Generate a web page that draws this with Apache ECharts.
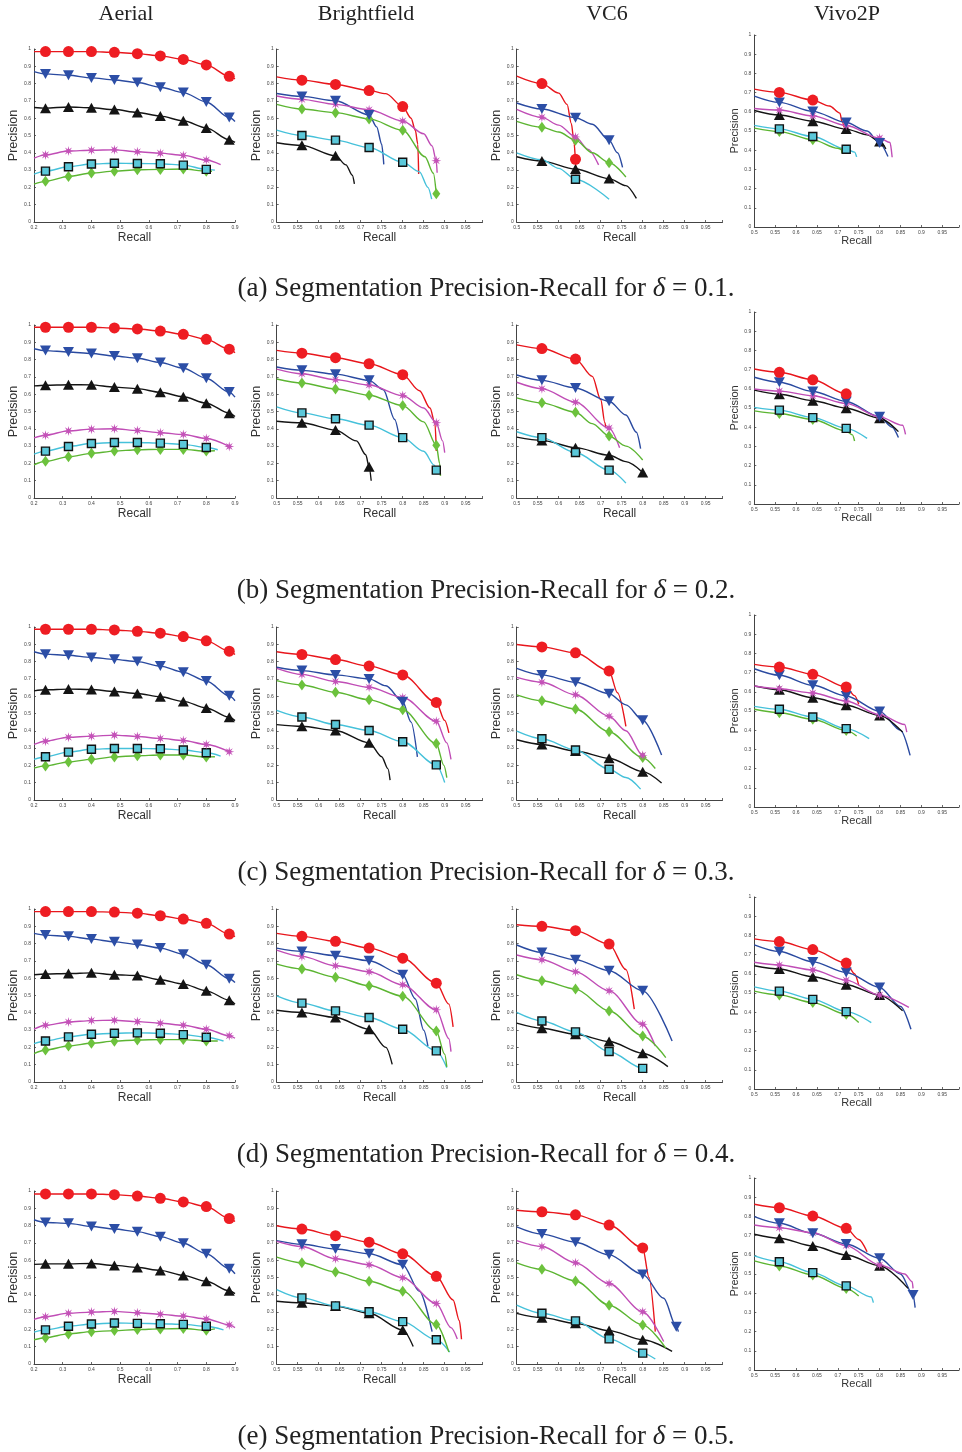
<!DOCTYPE html>
<html>
<head>
<meta charset="utf-8">
<script src="https://cdn.jsdelivr.net/npm/echarts@6/dist/echarts.min.js"></script>
<style>
  html, body { margin: 0; padding: 0; background: #fff; }
  #chart { width: 962px; height: 1452px; }
</style>
</head>
<body>
<div id="chart"></div>
<script>
// ---- labels ----
const COLUMN_TITLES = ['Aerial', 'Brightfield', 'VC6', 'Vivo2P'];
const ROW_LETTERS = ['a', 'b', 'c', 'd', 'e'];
const DELTAS = ['0.1', '0.2', '0.3', '0.4', '0.5'];

// ---- curves: each panel holds 6 curves in order red, blue, black, magenta, cyan, green.
// Points are [recall, precision]; a third element 1 marks a plotted marker.
const a_aerial = [
  [[0.2,0.985],[0.24,0.985,1],[0.32,0.985,1],[0.40,0.985,1],[0.48,0.981,1],[0.56,0.973,1],[0.64,0.96,1],[0.72,0.94,1],[0.80,0.908,1],[0.88,0.842,1],[0.9,0.827]],
  [[0.2,0.869],[0.24,0.856,1],[0.32,0.848,1],[0.40,0.833,1],[0.48,0.821,1],[0.56,0.806,1],[0.64,0.779,1],[0.72,0.748,1],[0.80,0.694,1],[0.88,0.604,1],[0.9,0.581]],
  [[0.2,0.662],[0.24,0.658,1],[0.32,0.665,1],[0.40,0.66,1],[0.48,0.65,1],[0.56,0.633,1],[0.64,0.612,1],[0.72,0.585,1],[0.80,0.544,1],[0.88,0.475,1],[0.9,0.46]],
  [[0.2,0.369],[0.24,0.388,1],[0.32,0.41,1],[0.40,0.415,1],[0.48,0.417,1],[0.56,0.406,1],[0.64,0.398,1],[0.72,0.385,1],[0.80,0.358,1],[0.85,0.331]],
  [[0.2,0.277],[0.24,0.294,1],[0.32,0.319,1],[0.40,0.335,1],[0.48,0.34,1],[0.56,0.338,1],[0.64,0.337,1],[0.72,0.329,1],[0.80,0.304,1],[0.83,0.30]],
  [[0.2,0.219],[0.24,0.235,1],[0.32,0.263,1],[0.40,0.283,1],[0.48,0.294,1],[0.56,0.302,1],[0.64,0.304,1],[0.72,0.306,1],[0.80,0.294,1],[0.82,0.293]]
];
const a_bright = [
  [[0.5,0.839],[0.56,0.82,1],[0.64,0.795,1],[0.72,0.76,1],[0.76,0.742],[0.80,0.667,1],[0.82,0.6],[0.83,0.53],[0.836,0.45],[0.838,0.278]],
  [[0.5,0.743],[0.56,0.726,1],[0.64,0.701,1],[0.72,0.619,1],[0.738,0.55],[0.75,0.45],[0.755,0.333]],
  [[0.5,0.458],[0.56,0.443,1],[0.64,0.383,1],[0.665,0.33],[0.68,0.27],[0.685,0.22]],
  [[0.5,0.728],[0.56,0.709,1],[0.64,0.68,1],[0.72,0.649,1],[0.80,0.584,1],[0.85,0.51],[0.87,0.44],[0.88,0.354,1],[0.882,0.285]],
  [[0.5,0.531],[0.56,0.5,1],[0.64,0.473,1],[0.72,0.431,1],[0.80,0.345,1],[0.84,0.29],[0.86,0.2],[0.869,0.132]],
  [[0.5,0.68],[0.56,0.653,1],[0.64,0.632,1],[0.72,0.596,1],[0.80,0.531,1],[0.853,0.377],[0.873,0.282],[0.88,0.163,1]]
];
const a_vc6 = [
  [[0.5,0.843],[0.56,0.80,1],[0.6,0.745],[0.62,0.68],[0.63,0.57],[0.637,0.45],[0.64,0.362,1],[0.641,0.276]],
  [[0.5,0.688],[0.56,0.653,1],[0.64,0.603,1],[0.68,0.565],[0.72,0.473,1],[0.74,0.40],[0.752,0.316]],
  [[0.5,0.377],[0.56,0.352,1],[0.64,0.306,1],[0.72,0.251,1],[0.76,0.21],[0.785,0.136]],
  [[0.5,0.651],[0.56,0.605,1],[0.60,0.56],[0.64,0.492,1],[0.67,0.42],[0.695,0.33]],
  [[0.5,0.4],[0.56,0.36],[0.6,0.31],[0.64,0.247,1],[0.72,0.132]],
  [[0.5,0.582],[0.56,0.548,1],[0.60,0.52],[0.64,0.473,1],[0.68,0.40],[0.72,0.343,1],[0.76,0.26]]
];
const a_vivo = [
  [[0.5,0.718],[0.56,0.701,1],[0.64,0.661,1],[0.68,0.63],[0.705,0.593],[0.71,0.55],[0.715,0.52]],
  [[0.5,0.682],[0.56,0.649,1],[0.64,0.602,1],[0.72,0.544,1],[0.77,0.5],[0.80,0.437,1],[0.82,0.367]],
  [[0.5,0.607],[0.56,0.583,1],[0.64,0.551,1],[0.72,0.51,1],[0.77,0.48],[0.80,0.445,1],[0.815,0.407]],
  [[0.5,0.617],[0.56,0.609,1],[0.64,0.579,1],[0.72,0.529,1],[0.80,0.463,1],[0.825,0.44],[0.83,0.363]],
  [[0.5,0.529],[0.56,0.511,1],[0.64,0.471,1],[0.72,0.405,1],[0.74,0.39],[0.745,0.365]],
  [[0.5,0.515],[0.56,0.497,1],[0.64,0.454,1],[0.70,0.41],[0.708,0.405],[0.71,0.384]]
];

const b_aerial = [
  [[0.2,0.987],[0.24,0.987,1],[0.32,0.987,1],[0.40,0.987,1],[0.48,0.983,1],[0.56,0.977,1],[0.64,0.965,1],[0.72,0.946,1],[0.80,0.917,1],[0.88,0.86,1],[0.9,0.84]],
  [[0.2,0.863],[0.24,0.852,1],[0.32,0.844,1],[0.40,0.835,1],[0.48,0.821,1],[0.56,0.808,1],[0.64,0.783,1],[0.72,0.75,1],[0.80,0.692,1],[0.88,0.612,1],[0.9,0.583]],
  [[0.2,0.648],[0.24,0.652,1],[0.32,0.655,1],[0.40,0.654,1],[0.48,0.641,1],[0.56,0.632,1],[0.64,0.611,1],[0.72,0.585,1],[0.80,0.548,1],[0.88,0.49,1],[0.9,0.471]],
  [[0.2,0.348],[0.24,0.363,1],[0.32,0.388,1],[0.40,0.398,1],[0.48,0.4,1],[0.56,0.39,1],[0.64,0.377,1],[0.72,0.367,1],[0.80,0.344,1],[0.88,0.298,1]],
  [[0.2,0.254],[0.24,0.271,1],[0.32,0.298,1],[0.40,0.315,1],[0.48,0.321,1],[0.56,0.321,1],[0.64,0.317,1],[0.72,0.31,1],[0.80,0.292,1],[0.84,0.279]],
  [[0.2,0.192],[0.24,0.212,1],[0.32,0.238,1],[0.40,0.258,1],[0.48,0.271,1],[0.56,0.279,1],[0.64,0.281,1],[0.72,0.281,1],[0.80,0.271,1],[0.83,0.273]]
];
const b_bright = [
  [[0.5,0.853],[0.56,0.837,1],[0.64,0.811,1],[0.72,0.776,1],[0.80,0.713,1],[0.84,0.62],[0.865,0.52],[0.877,0.43],[0.88,0.272]],
  [[0.5,0.757],[0.56,0.738,1],[0.64,0.716,1],[0.72,0.68,1],[0.754,0.626],[0.781,0.454],[0.792,0.349]],
  [[0.5,0.444],[0.56,0.435,1],[0.64,0.393,1],[0.69,0.33],[0.712,0.25],[0.72,0.18,1],[0.725,0.1]],
  [[0.5,0.745],[0.56,0.718,1],[0.64,0.684,1],[0.72,0.653,1],[0.80,0.592,1],[0.85,0.52],[0.88,0.435,1],[0.895,0.33],[0.9,0.262]],
  [[0.5,0.527],[0.56,0.492,1],[0.64,0.458,1],[0.72,0.421,1],[0.80,0.349,1],[0.85,0.27],[0.875,0.19],[0.88,0.161,1]],
  [[0.5,0.688],[0.56,0.665,1],[0.64,0.63,1],[0.72,0.594,1],[0.80,0.534,1],[0.85,0.44],[0.88,0.305,1],[0.888,0.2],[0.89,0.128]]
];
const b_vc6 = [
  [[0.5,0.885],[0.56,0.864,1],[0.64,0.803,1],[0.68,0.703],[0.70,0.569],[0.71,0.435],[0.712,0.41]],
  [[0.5,0.711],[0.56,0.68,1],[0.64,0.636,1],[0.72,0.559,1],[0.76,0.48],[0.785,0.38],[0.795,0.285]],
  [[0.5,0.352],[0.56,0.333,1],[0.64,0.291,1],[0.72,0.247,1],[0.76,0.21],[0.80,0.148,1]],
  [[0.5,0.669],[0.56,0.632,1],[0.64,0.554,1],[0.72,0.404,1],[0.745,0.291]],
  [[0.5,0.383],[0.56,0.349,1],[0.64,0.263,1],[0.72,0.161,1],[0.76,0.086]],
  [[0.5,0.579],[0.56,0.55,1],[0.64,0.496,1],[0.68,0.43],[0.72,0.358,1],[0.76,0.3],[0.80,0.22]]
];
const b_vivo = [
  [[0.5,0.703],[0.56,0.686,1],[0.64,0.647,1],[0.72,0.574,1],[0.722,0.555]],
  [[0.5,0.66],[0.56,0.634,1],[0.64,0.586,1],[0.72,0.534,1],[0.80,0.454,1],[0.83,0.4],[0.845,0.346]],
  [[0.5,0.593],[0.56,0.572,1],[0.64,0.538,1],[0.72,0.499,1],[0.80,0.447,1],[0.845,0.377]],
  [[0.5,0.599],[0.56,0.588,1],[0.64,0.564,1],[0.72,0.524,1],[0.80,0.454,1],[0.855,0.41],[0.862,0.363]],
  [[0.5,0.503],[0.56,0.489,1],[0.64,0.45,1],[0.72,0.394,1],[0.77,0.342]],
  [[0.5,0.485],[0.56,0.471,1],[0.64,0.44,1],[0.72,0.38],[0.735,0.36],[0.74,0.328]]
];

const c_aerial = [
  [[0.2,0.987],[0.24,0.987,1],[0.32,0.987,1],[0.40,0.987,1],[0.48,0.983,1],[0.56,0.975,1],[0.64,0.964,1],[0.72,0.945,1],[0.80,0.92,1],[0.88,0.86,1],[0.9,0.841]],
  [[0.2,0.857],[0.24,0.843,1],[0.32,0.837,1],[0.40,0.824,1],[0.48,0.813,1],[0.56,0.8,1],[0.64,0.774,1],[0.72,0.738,1],[0.80,0.688,1],[0.88,0.602,1],[0.9,0.574]],
  [[0.2,0.631],[0.24,0.637,1],[0.32,0.641,1],[0.40,0.639,1],[0.48,0.627,1],[0.56,0.616,1],[0.64,0.597,1],[0.72,0.57,1],[0.80,0.532,1],[0.88,0.478,1],[0.9,0.459]],
  [[0.2,0.321],[0.24,0.34,1],[0.32,0.363,1],[0.40,0.369,1],[0.48,0.375,1],[0.56,0.367,1],[0.64,0.356,1],[0.72,0.344,1],[0.80,0.321,1],[0.88,0.279,1]],
  [[0.2,0.235],[0.24,0.25,1],[0.32,0.277,1],[0.40,0.293,1],[0.48,0.298,1],[0.56,0.298,1],[0.64,0.296,1],[0.72,0.289,1],[0.80,0.273,1],[0.85,0.254]],
  [[0.2,0.184],[0.24,0.197,1],[0.32,0.22,1],[0.40,0.235,1],[0.48,0.249,1],[0.56,0.256,1],[0.64,0.26,1],[0.72,0.26,1],[0.80,0.249,1],[0.83,0.25]]
];
const c_bright = [
  [[0.5,0.857],[0.56,0.841,1],[0.64,0.812,1],[0.72,0.774,1],[0.80,0.723,1],[0.88,0.564,1],[0.9,0.46],[0.91,0.388]],
  [[0.5,0.767],[0.56,0.748,1],[0.64,0.723,1],[0.72,0.7,1],[0.76,0.66],[0.80,0.568,1],[0.82,0.45],[0.835,0.249]],
  [[0.5,0.436],[0.56,0.426,1],[0.64,0.402,1],[0.72,0.331,1],[0.75,0.25],[0.765,0.18],[0.77,0.115]],
  [[0.5,0.761],[0.56,0.726,1],[0.64,0.685,1],[0.72,0.652,1],[0.80,0.593,1],[0.88,0.455,1],[0.905,0.33],[0.915,0.235]],
  [[0.5,0.518],[0.56,0.48,1],[0.64,0.436,1],[0.72,0.402,1],[0.80,0.337,1],[0.88,0.203,1],[0.9,0.101]],
  [[0.5,0.69],[0.56,0.665,1],[0.64,0.623,1],[0.72,0.579,1],[0.80,0.522,1],[0.88,0.327,1],[0.898,0.2],[0.905,0.13]]
];
const c_vc6 = [
  [[0.5,0.899],[0.56,0.885,1],[0.64,0.851,1],[0.72,0.746,1],[0.74,0.62],[0.76,0.426]],
  [[0.5,0.761],[0.56,0.723,1],[0.64,0.681,1],[0.72,0.614,1],[0.76,0.55],[0.80,0.461,1],[0.845,0.26]],
  [[0.5,0.348],[0.56,0.321,1],[0.64,0.283,1],[0.72,0.241,1],[0.80,0.164,1],[0.845,0.098]],
  [[0.5,0.709],[0.56,0.681,1],[0.64,0.608,1],[0.72,0.484,1],[0.76,0.4],[0.80,0.258,1],[0.805,0.25]],
  [[0.5,0.398],[0.56,0.354,1],[0.64,0.289,1],[0.72,0.178,1],[0.76,0.13],[0.795,0.063]],
  [[0.5,0.608],[0.56,0.574,1],[0.64,0.526,1],[0.72,0.394,1],[0.80,0.245,1],[0.83,0.182]]
];
const c_vivo = [
  [[0.5,0.743],[0.56,0.729,1],[0.64,0.691,1],[0.72,0.625,1],[0.74,0.58],[0.75,0.535]],
  [[0.5,0.72],[0.56,0.686,1],[0.64,0.634,1],[0.72,0.578,1],[0.80,0.498,1],[0.85,0.4],[0.873,0.269]],
  [[0.5,0.63],[0.56,0.611,1],[0.64,0.569,1],[0.72,0.53,1],[0.80,0.477,1],[0.855,0.39]],
  [[0.5,0.63],[0.56,0.616,1],[0.64,0.594,1],[0.72,0.552,1],[0.80,0.481,1],[0.86,0.43],[0.865,0.39]],
  [[0.5,0.524],[0.56,0.509,1],[0.64,0.469,1],[0.72,0.408,1],[0.775,0.356]],
  [[0.5,0.509],[0.56,0.491,1],[0.64,0.457,1],[0.72,0.399,1],[0.745,0.37]]
];

const d_aerial = [
  [[0.2,0.985],[0.24,0.985,1],[0.32,0.985,1],[0.40,0.985,1],[0.48,0.982,1],[0.56,0.976,1],[0.64,0.961,1],[0.72,0.942,1],[0.80,0.917,1],[0.88,0.855,1],[0.9,0.84]],
  [[0.2,0.859],[0.24,0.849,1],[0.32,0.842,1],[0.40,0.826,1],[0.48,0.81,1],[0.56,0.795,1],[0.64,0.774,1],[0.72,0.739,1],[0.80,0.678,1],[0.88,0.597,1],[0.9,0.575]],
  [[0.2,0.62],[0.24,0.624,1],[0.32,0.627,1],[0.40,0.631,1],[0.48,0.62,1],[0.56,0.616,1],[0.64,0.591,1],[0.72,0.566,1],[0.80,0.527,1],[0.88,0.473,1],[0.9,0.45]],
  [[0.2,0.305],[0.24,0.328,1],[0.32,0.347,1],[0.40,0.355,1],[0.48,0.357,1],[0.56,0.349,1],[0.64,0.34,1],[0.72,0.328,1],[0.80,0.305,1],[0.88,0.267,1],[0.9,0.253]],
  [[0.2,0.222],[0.24,0.237,1],[0.32,0.261,1],[0.40,0.276,1],[0.48,0.282,1],[0.56,0.284,1],[0.64,0.282,1],[0.72,0.274,1],[0.80,0.259,1],[0.86,0.237]],
  [[0.2,0.164],[0.24,0.185,1],[0.32,0.208,1],[0.40,0.224,1],[0.48,0.236,1],[0.56,0.243,1],[0.64,0.245,1],[0.72,0.245,1],[0.80,0.237,1],[0.84,0.237]]
];
const d_bright = [
  [[0.5,0.859],[0.56,0.842,1],[0.64,0.813,1],[0.72,0.774,1],[0.80,0.716,1],[0.88,0.571,1],[0.91,0.45],[0.92,0.319]],
  [[0.5,0.774],[0.56,0.755,1],[0.64,0.73,1],[0.72,0.701,1],[0.80,0.62,1],[0.83,0.48],[0.85,0.3],[0.86,0.208]],
  [[0.5,0.415],[0.56,0.402,1],[0.64,0.373,1],[0.72,0.305,1],[0.76,0.2],[0.775,0.102]],
  [[0.5,0.762],[0.56,0.726,1],[0.64,0.672,1],[0.72,0.637,1],[0.80,0.562,1],[0.88,0.417,1],[0.91,0.25],[0.915,0.176]],
  [[0.5,0.498],[0.56,0.456,1],[0.64,0.411,1],[0.72,0.373,1],[0.80,0.305,1],[0.88,0.18,1],[0.905,0.083]],
  [[0.5,0.681],[0.56,0.653,1],[0.64,0.606,1],[0.72,0.556,1],[0.80,0.496,1],[0.88,0.295,1],[0.9,0.16],[0.905,0.087]]
];
const d_vc6 = [
  [[0.5,0.909],[0.56,0.9,1],[0.64,0.875,1],[0.72,0.797,1],[0.76,0.65],[0.78,0.421]],
  [[0.5,0.792],[0.56,0.749,1],[0.64,0.707,1],[0.72,0.643,1],[0.80,0.527,1],[0.87,0.237]],
  [[0.5,0.34],[0.56,0.311,1],[0.64,0.276,1],[0.72,0.234,1],[0.80,0.166,1],[0.86,0.089]],
  [[0.5,0.734],[0.56,0.707,1],[0.64,0.637,1],[0.72,0.527,1],[0.80,0.334,1],[0.83,0.208]],
  [[0.5,0.402],[0.56,0.353,1],[0.64,0.29,1],[0.72,0.176,1],[0.80,0.079,1],[0.81,0.052]],
  [[0.5,0.62],[0.56,0.585,1],[0.64,0.537,1],[0.72,0.411,1],[0.80,0.266,1],[0.855,0.141]]
];
const d_vivo = [
  [[0.5,0.782],[0.56,0.768,1],[0.64,0.726,1],[0.72,0.656,1],[0.74,0.6],[0.75,0.54]],
  [[0.5,0.751],[0.56,0.716,1],[0.64,0.662,1],[0.72,0.607,1],[0.80,0.529,1],[0.85,0.43],[0.875,0.311]],
  [[0.5,0.642],[0.56,0.625,1],[0.64,0.585,1],[0.72,0.543,1],[0.80,0.489,1],[0.855,0.407]],
  [[0.5,0.66],[0.56,0.646,1],[0.64,0.62,1],[0.72,0.567,1],[0.80,0.489,1],[0.87,0.425]],
  [[0.5,0.532],[0.56,0.51,1],[0.64,0.467,1],[0.72,0.403,1],[0.78,0.346]],
  [[0.5,0.51],[0.56,0.49,1],[0.64,0.45,1],[0.72,0.389,1],[0.75,0.346]]
];

const e_aerial = [
  [[0.2,0.983],[0.24,0.983,1],[0.32,0.983,1],[0.40,0.983,1],[0.48,0.979,1],[0.56,0.971,1],[0.64,0.958,1],[0.72,0.937,1],[0.80,0.91,1],[0.88,0.841,1],[0.9,0.824]],
  [[0.2,0.834],[0.24,0.818,1],[0.32,0.813,1],[0.40,0.795,1],[0.48,0.78,1],[0.56,0.765,1],[0.64,0.736,1],[0.72,0.698,1],[0.80,0.637,1],[0.88,0.551,1],[0.9,0.522]],
  [[0.2,0.576],[0.24,0.579,1],[0.32,0.579,1],[0.40,0.581,1],[0.48,0.57,1],[0.56,0.558,1],[0.64,0.541,1],[0.72,0.512,1],[0.80,0.478,1],[0.88,0.423,1],[0.9,0.407]],
  [[0.2,0.258],[0.24,0.273,1],[0.32,0.294,1],[0.40,0.3,1],[0.48,0.304,1],[0.56,0.296,1],[0.64,0.287,1],[0.72,0.277,1],[0.80,0.26,1],[0.88,0.226,1],[0.9,0.21]],
  [[0.2,0.184],[0.24,0.197,1],[0.32,0.218,1],[0.40,0.231,1],[0.48,0.237,1],[0.56,0.235,1],[0.64,0.233,1],[0.72,0.229,1],[0.80,0.218,1],[0.86,0.197]],
  [[0.2,0.14],[0.24,0.152,1],[0.32,0.174,1],[0.40,0.187,1],[0.48,0.193,1],[0.56,0.199,1],[0.64,0.203,1],[0.72,0.205,1],[0.80,0.195,1],[0.83,0.203]]
];
const e_bright = [
  [[0.5,0.799],[0.56,0.78,1],[0.64,0.742,1],[0.72,0.704,1],[0.80,0.637,1],[0.88,0.507,1],[0.92,0.37],[0.935,0.25],[0.94,0.143]],
  [[0.5,0.713],[0.56,0.692,1],[0.64,0.665,1],[0.72,0.637,1],[0.80,0.574,1],[0.84,0.42],[0.87,0.187]],
  [[0.5,0.363],[0.56,0.354,1],[0.64,0.335,1],[0.72,0.293,1],[0.80,0.197,1],[0.825,0.101]],
  [[0.5,0.709],[0.56,0.679,1],[0.64,0.608,1],[0.72,0.574,1],[0.80,0.499,1],[0.88,0.35,1],[0.915,0.21],[0.93,0.145]],
  [[0.5,0.43],[0.56,0.382,1],[0.64,0.336,1],[0.72,0.302,1],[0.80,0.245,1],[0.88,0.14,1],[0.912,0.069]],
  [[0.5,0.618],[0.56,0.585,1],[0.64,0.532,1],[0.72,0.478,1],[0.80,0.421,1],[0.88,0.229,1],[0.91,0.069]]
];
const e_vc6 = [
  [[0.5,0.889],[0.56,0.88,1],[0.64,0.862,1],[0.72,0.803,1],[0.80,0.671,1],[0.815,0.5],[0.83,0.187]],
  [[0.5,0.793],[0.56,0.751,1],[0.64,0.704,1],[0.72,0.631,1],[0.80,0.518,1],[0.85,0.38],[0.88,0.216,1],[0.885,0.187]],
  [[0.5,0.293],[0.56,0.268,1],[0.64,0.235,1],[0.72,0.193,1],[0.80,0.14,1],[0.87,0.073]],
  [[0.5,0.713],[0.56,0.679,1],[0.64,0.585,1],[0.72,0.465,1],[0.80,0.302,1],[0.85,0.13]],
  [[0.5,0.34],[0.56,0.293,1],[0.64,0.249,1],[0.72,0.145,1],[0.80,0.063,1],[0.83,0.029]],
  [[0.5,0.585],[0.56,0.547,1],[0.64,0.48,1],[0.72,0.34,1],[0.80,0.226,1],[0.855,0.092]]
];
const e_vivo = [
  [[0.5,0.863],[0.56,0.845,1],[0.64,0.802,1],[0.72,0.738,1],[0.75,0.68],[0.77,0.616]],
  [[0.5,0.799],[0.56,0.764,1],[0.64,0.712,1],[0.72,0.656,1],[0.80,0.582,1],[0.85,0.5],[0.88,0.391,1],[0.885,0.325]],
  [[0.5,0.707],[0.56,0.686,1],[0.64,0.646,1],[0.72,0.599,1],[0.80,0.543,1],[0.868,0.425]],
  [[0.5,0.755],[0.56,0.741,1],[0.64,0.715,1],[0.72,0.648,1],[0.80,0.547,1],[0.86,0.5],[0.878,0.46],[0.88,0.425]],
  [[0.5,0.594],[0.56,0.564,1],[0.64,0.507,1],[0.72,0.438,1],[0.78,0.38],[0.785,0.351]],
  [[0.5,0.568],[0.56,0.542,1],[0.64,0.495,1],[0.72,0.425,1],[0.75,0.385]]
];

const PANELS = [
  [a_aerial, a_bright, a_vc6, a_vivo],
  [b_aerial, b_bright, b_vc6, b_vivo],
  [c_aerial, c_bright, c_vc6, c_vivo],
  [d_aerial, d_bright, d_vc6, d_vivo],
  [e_aerial, e_bright, e_vc6, e_vivo]
];

// ---- layout (pixels) ----
const COL_LEFT = [34, 276.7, 516.7, 754.3];
const COL_WIDTH = [201, 205.8, 205.8, 206.6];
const COL_CENTER = [126, 366, 607, 847];
const ROW_TOP = [49, 325, 627, 909, 1191];
const ROW_H = 173;
const VIVO_TOP = [35, 312, 615, 897, 1178];
const VIVO_H = 192;
const CAPTION_Y = [289, 591, 873, 1155, 1437];

// eight-pointed star marker
const STAR = (() => {
  let d = '';
  for (let i = 0; i < 16; i++) {
    const a = i * Math.PI / 8 - Math.PI / 2;
    const r = i % 2 ? 0.38 : 1;
    d += (i ? 'L' : 'M') + (Math.cos(a) * r).toFixed(3) + ' ' + (Math.sin(a) * r).toFixed(3) + ' ';
  }
  return 'path://' + d + 'Z';
})();

const STYLES = [
  { line: '#e8161c', symbol: 'circle', size: 11, fill: '#ee1d23' },
  { line: '#2a4aa0', symbol: 'triangle', rotate: 180, size: [11, 10], fill: '#2c4ea6' },
  { line: '#141414', symbol: 'triangle', size: [11, 10], fill: '#141414' },
  { line: '#c04db6', symbol: STAR, size: 10, fill: '#c452b8' },
  { line: '#45c1da', symbol: 'rect', size: 8, fill: '#5bc8da', border: '#111' },
  { line: '#5cb532', symbol: 'diamond', size: [8, 11], fill: '#6cc23d' }
];
const DRAW_ORDER = [5, 2, 4, 3, 1, 0];

const TICK_FONT = { fontSize: 5, color: '#444', fontFamily: 'Liberation Sans' };
const AXIS_LINE = { lineStyle: { color: '#444', width: 1 } };
const AXIS_TICK = { inside: true, length: 2, lineStyle: { color: '#444', width: 0.8 } };
const fmt = v => (v > 0.96 && v < 0.999) ? '' : String(Math.round(v * 100) / 100);

const grids = [], xAxes = [], yAxes = [], series = [], graphics = [];

PANELS.forEach((row, r) => {
  row.forEach((panel, c) => {
    const idx = grids.length;
    const vivo = c === 3, aerial = c === 0;
    const top = vivo ? VIVO_TOP[r] : ROW_TOP[r];
    const h = vivo ? VIVO_H : ROW_H;
    grids.push({ left: COL_LEFT[c], width: COL_WIDTH[c], top: top, height: h });
    xAxes.push({
      type: 'value', gridIndex: idx,
      min: aerial ? 0.2 : 0.5, max: aerial ? 0.9 : 0.99, interval: aerial ? 0.1 : 0.05,
      axisLine: AXIS_LINE, axisTick: AXIS_TICK, splitLine: { show: false },
      axisLabel: Object.assign({ margin: 3, formatter: fmt }, TICK_FONT),
      name: 'Recall', nameLocation: 'middle', nameGap: vivo ? 7 : 10,
      nameTextStyle: { fontSize: vivo ? 11 : 12, color: '#333', fontFamily: 'Liberation Sans' }
    });
    yAxes.push({
      type: 'value', gridIndex: idx, min: 0, max: 1, interval: 0.1,
      axisLine: AXIS_LINE, axisTick: AXIS_TICK, splitLine: { show: false },
      axisLabel: Object.assign({ margin: 3, formatter: fmt }, TICK_FONT),
      name: 'Precision', nameLocation: 'middle', nameGap: vivo ? 11 : 12,
      nameTextStyle: { fontSize: vivo ? 11 : 12.5, color: '#333', fontFamily: 'Liberation Sans' }
    });
    panel.forEach((pts, s) => {
      series.push({
        type: 'line', xAxisIndex: idx, yAxisIndex: idx, silent: true,
        data: pts.map(p => [p[0], p[1]]),
        showSymbol: false, smooth: 0.3, smoothMonotone: 'x',
        lineStyle: { color: STYLES[s].line, width: 1.4 }, z: 2
      });
    });
    DRAW_ORDER.forEach(s => {
      const st = STYLES[s];
      series.push({
        type: 'scatter', xAxisIndex: idx, yAxisIndex: idx, silent: true,
        data: panel[s].filter(p => p[2]).map(p => [p[0], p[1]]),
        symbol: st.symbol, symbolSize: st.size, symbolRotate: st.rotate || 0,
        itemStyle: { color: st.fill, borderColor: st.border || st.fill, borderWidth: st.border ? 1.4 : 0, opacity: 1 },
        z: 3
      });
    });
  });
});

COLUMN_TITLES.forEach((t, c) => {
  graphics.push({
    type: 'text', x: COL_CENTER[c], y: 14,
    style: { text: t, fontFamily: 'Liberation Serif', fontSize: 22, fill: '#222', textAlign: 'center', textVerticalAlign: 'middle' }
  });
});
ROW_LETTERS.forEach((l, r) => {
  graphics.push({
    type: 'text', x: 486, y: CAPTION_Y[r],
    style: {
      text: '{n|(' + l + ') Segmentation Precision-Recall for }{i|δ}{n| = ' + DELTAS[r] + '.}',
      textAlign: 'center', textVerticalAlign: 'middle', fill: '#222',
      fontFamily: 'Liberation Serif', fontSize: 27,
      rich: {
        n: { fontFamily: 'Liberation Serif', fontSize: 27, fill: '#222' },
        i: { fontFamily: 'Liberation Serif', fontSize: 27, fontStyle: 'italic', fill: '#222' }
      }
    }
  });
});

const chart = echarts.init(document.getElementById('chart'), null, { renderer: 'canvas' });
chart.setOption({
  backgroundColor: '#fff',
  animation: false,
  grid: grids, xAxis: xAxes, yAxis: yAxes, series: series,
  graphic: graphics
});
</script>
</body>
</html>
